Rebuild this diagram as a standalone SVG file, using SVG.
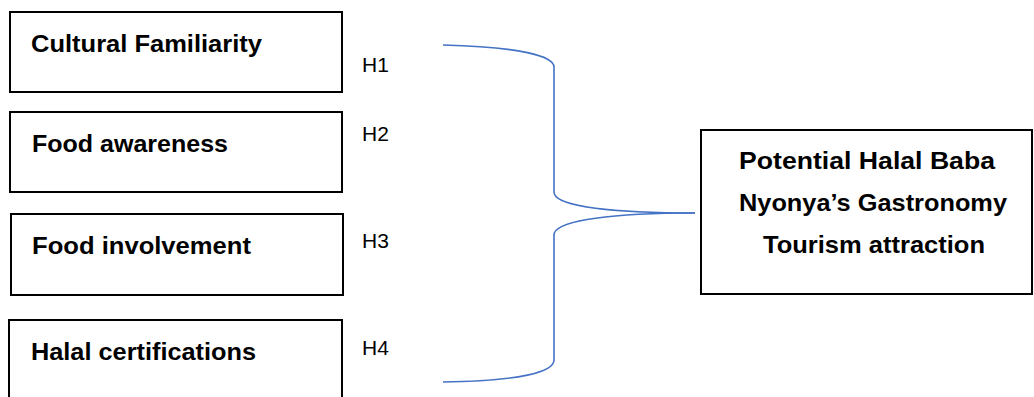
<svg xmlns="http://www.w3.org/2000/svg" width="1034" height="397" viewBox="0 0 1034 397">
<style>
.box{fill:#fff;stroke:#000;stroke-width:2}
.lbl{font-family:"Liberation Sans",Arial,sans-serif;font-weight:bold;font-size:24px;fill:#000}
.h{font-family:"Liberation Sans",Arial,sans-serif;font-size:21px;fill:#000}
.con{fill:none;stroke:#4472C4;stroke-width:1.6}
</style>
<rect width="1034" height="397" fill="#fff"/>
<g id="n1"><rect class="box" x="10" y="12" width="332" height="80"/><text class="lbl" x="31" y="52" textLength="231" lengthAdjust="spacingAndGlyphs">Cultural Familiarity</text></g>
<g id="n2"><rect class="box" x="10" y="112" width="332" height="80"/><text class="lbl" x="32" y="152" textLength="196" lengthAdjust="spacingAndGlyphs">Food awareness</text></g>
<g id="n3"><rect class="box" x="11" y="214" width="332" height="81"/><text class="lbl" x="32" y="254" textLength="219" lengthAdjust="spacingAndGlyphs">Food involvement</text></g>
<g id="n4"><rect class="box" x="9" y="320" width="333" height="90"/><text class="lbl" x="31" y="360" textLength="225" lengthAdjust="spacingAndGlyphs">Halal certifications</text></g>
<g id="n5"><rect class="box" x="701" y="130" width="331" height="164"/>
<text class="lbl" x="739" y="169" textLength="256" lengthAdjust="spacingAndGlyphs">Potential Halal Baba</text>
<text class="lbl" x="739" y="211" textLength="268" lengthAdjust="spacingAndGlyphs">Nyonya’s Gastronomy</text>
<text class="lbl" x="763" y="253" textLength="222" lengthAdjust="spacingAndGlyphs">Tourism attraction</text></g>
<g id="hyp">
<text class="h" x="362" y="72">H1</text>
<text class="h" x="362" y="141">H2</text>
<text class="h" x="362" y="248">H3</text>
<text class="h" x="362" y="355">H4</text>
</g>
<g id="connectors">
<path class="con" d="M443,45 C520,47 554,56 554,67 V192 C554,205 600,212 680,213 H695"/>
<path class="con" d="M695,213 H680 C600,214 554,222 554,235 V360 C554,372 520,381 443,382"/>
</g>
</svg>
